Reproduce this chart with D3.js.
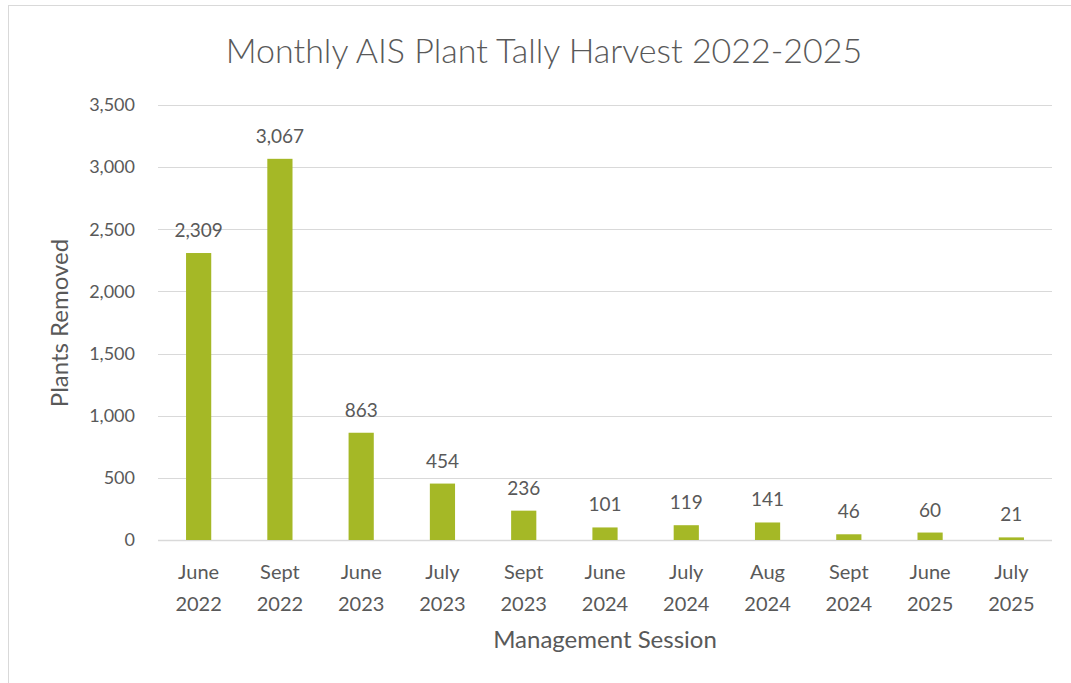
<!DOCTYPE html>
<html>
<head>
<meta charset="utf-8">
<script src="https://cdn.jsdelivr.net/npm/d3@7"></script>
<style>
  body { margin: 0; background: #fff; }
  text { font-family: Lato, "Open Sans", sans-serif; fill: #595959; }
</style>
</head>
<body>
<script>
// data
var sessions = ["June 2022", "Sept 2022", "June 2023", "July 2023", "Sept 2023", "June 2024",
                "July 2024", "Aug 2024", "Sept 2024", "June 2025", "July 2025"];
var removed = [2309, 3067, 863, 454, 236, 101, 119, 141, 46, 60, 21];
var yTicks = [0, 500, 1000, 1500, 2000, 2500, 3000, 3500];

var W = 1071, H = 683;
var plot = {left: 158, right: 1052, top: 105, bottom: 540};

var svg = d3.select("body").append("svg")
    .attr("width", W)
    .attr("height", H);

// chart frame
svg.append("rect")
    .attr("x", 8.5).attr("y", 5.5)
    .attr("width", W + 10).attr("height", H + 10)
    .attr("fill", "none")
    .attr("stroke", "#d9d9d9");

var x = d3.scaleBand().domain(sessions).range([plot.left, plot.right]).paddingInner(0.69).paddingOuter(0.345),
    y = d3.scaleLinear().domain([0, 3500]).range([plot.bottom, plot.top]);

// gridlines
svg.append("g").selectAll("line")
    .data(yTicks)
    .enter().append("line")
    .attr("x1", plot.left).attr("x2", plot.right)
    .attr("y1", d => Math.round(y(d)) + 0.5)
    .attr("y2", d => Math.round(y(d)) + 0.5)
    .attr("stroke", "#d9d9d9")
    .attr("stroke-width", d => d === 0 ? 1.5 : 1);

// y tick labels
svg.append("g").selectAll("text")
    .data(yTicks)
    .enter().append("text")
    .attr("x", 135)
    .attr("y", d => y(d))
    .attr("dy", "0.35em")
    .attr("text-anchor", "end")
    .style("font-size", "18px")
    .text(d => d3.format(",")(d));

// bars
svg.append("g").selectAll("rect")
    .data(removed)
    .enter().append("rect")
    .attr("x", (d, i) => x(sessions[i]))
    .attr("y", d => y(d))
    .attr("width", x.bandwidth())
    .attr("height", d => y(0) - y(d))
    .attr("fill", "#a5b826");

// value labels
svg.append("g").selectAll("text")
    .data(removed)
    .enter().append("text")
    .attr("x", (d, i) => x(sessions[i]) + x.bandwidth() / 2)
    .attr("y", d => y(d) - 16)
    .attr("text-anchor", "middle")
    .style("font-size", "19px")
    .text(d => d3.format(",")(d));

// category labels, two lines
var cat = svg.append("g").selectAll("text")
    .data(sessions)
    .enter().append("text")
    .attr("text-anchor", "middle")
    .style("font-size", "20px");
cat.append("tspan")
    .attr("x", d => x(d) + x.bandwidth() / 2)
    .attr("y", 579)
    .text(d => d.split(" ")[0]);
cat.append("tspan")
    .attr("x", d => x(d) + x.bandwidth() / 2)
    .attr("y", 611)
    .text(d => d.split(" ")[1]);

// titles
svg.append("text")
    .attr("x", 544).attr("y", 63)
    .attr("text-anchor", "middle")
    .style("font-size", "34px")
    .style("font-weight", 300)
    .text("Monthly AIS Plant Tally Harvest 2022-2025");

svg.append("text")
    .attr("x", 605).attr("y", 648)
    .attr("text-anchor", "middle")
    .style("font-size", "24px")
    .text("Management Session");

svg.append("text")
    .attr("transform", "translate(68, 323) rotate(-90)")
    .attr("text-anchor", "middle")
    .style("font-size", "24px")
    .text("Plants Removed");
</script>
</body>
</html>
